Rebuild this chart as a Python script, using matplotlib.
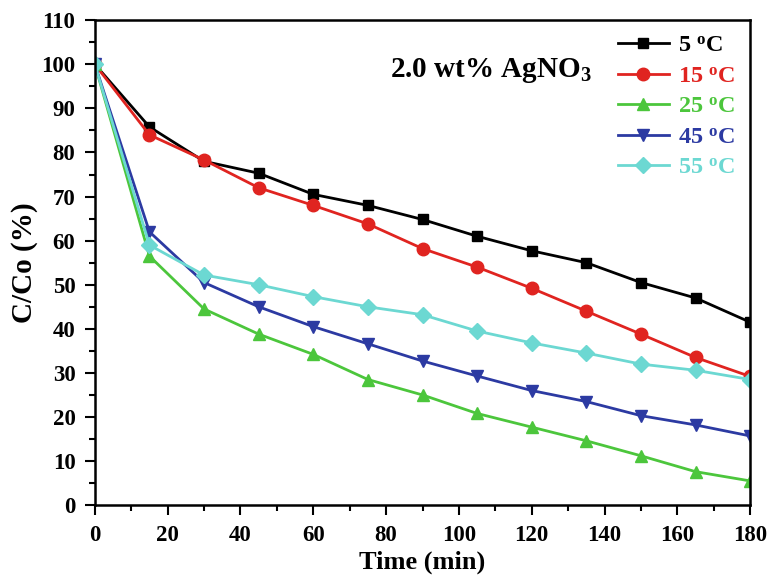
import matplotlib.pyplot as plt

plt.rcParams['font.family'] = ['Liberation Serif', 'DejaVu Serif']
plt.rcParams['font.weight'] = 'bold'
plt.rcParams['mathtext.fontset'] = 'custom'
plt.rcParams['mathtext.rm'] = 'Liberation Serif:bold'
plt.rcParams['mathtext.it'] = 'Liberation Serif:bold'
plt.rcParams['mathtext.bf'] = 'Liberation Serif:bold'

# Data
time = [0, 15, 30, 45, 60, 75, 90, 105, 120, 135, 150, 165, 180]
c_5 = [100, 85.8, 78, 75.3, 70.5, 68, 64.8, 61, 57.7, 55, 50.5, 47, 41.5]
c_15 = [100, 84, 78.3, 72, 68, 63.8, 58.2, 54, 49.2, 44, 38.8, 33.5, 29.2]
c_25 = [100, 56.5, 44.5, 38.8, 34.2, 28.5, 25, 20.8, 17.7, 14.6, 11.2, 7.6, 5.5]
c_45 = [100, 62, 50.5, 45, 40.5, 36.6, 32.7, 29.3, 26, 23.5, 20.3, 18.2, 15.7]
c_55 = [100, 59, 52.2, 50, 47.3, 45, 43.2, 39.5, 36.8, 34.5, 32, 30.6, 28.5]

series = [c_5, c_15, c_25, c_45, c_55]
labels = ['5 $^{\\rm o}$C', '15 $^{\\rm o}$C', '25 $^{\\rm o}$C', '45 $^{\\rm o}$C', '55 $^{\\rm o}$C']
colors = ['#000000', '#e02420', '#4cc63c', '#2c3aa2', '#6cd8d2']
markers = ['s', 'o', '^', 'v', 'D']
msizes = [7, 9, 9, 9, 8]

fig = plt.figure(figsize=(7.71, 5.78), dpi=100)
ax = fig.add_axes([0.123, 0.126, 0.850, 0.839])

for i in range(len(series)):
    ax.plot(time, series[i], color=colors[i], marker=markers[i],
            markersize=msizes[i], linewidth=2, label=labels[i])

ax.set_xlim(0, 180)
ax.set_ylim(0, 110)
ax.set_xticks(range(0, 181, 20))
ax.set_xticks(range(0, 181, 10), minor=True)
ax.set_yticks(range(0, 111, 10))
ax.set_yticks(range(0, 111, 5), minor=True)
ax.tick_params(axis='both', which='major', direction='out', length=7, width=1.5,
               labelsize=16.5, pad=7)
ax.tick_params(axis='both', which='minor', direction='out', length=4, width=1.5)
for s in ax.spines.values():
    s.set_linewidth(1.8)

ax.set_xlabel('Time (min)', fontsize=19, fontweight='bold')
ax.xaxis.set_label_coords(0.5, -0.093)
ax.set_ylabel('C/Co (%)', fontsize=21, fontweight='bold', labelpad=2)

ax.text(81, 98.6, '2.0 wt% AgNO$_3$', fontsize=21, fontweight='bold', va='center')

leg = ax.legend(loc='upper right', frameon=False, fontsize=17.5, handlelength=2.1,
                handletextpad=0.4, labelspacing=0.35, borderaxespad=0.2)
for text, c in zip(leg.get_texts(), colors):
    text.set_color(c)

plt.savefig('out.png', dpi=100)
